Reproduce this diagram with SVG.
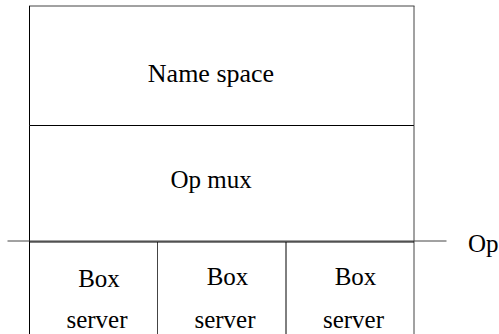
<svg xmlns="http://www.w3.org/2000/svg" width="499" height="334" viewBox="0 0 499 334">
  <style>
    text { font-family: 'Liberation Serif', 'Times New Roman', serif; font-size: 25px; fill: #000; text-anchor: middle; }
    .ln { stroke: #000; stroke-width: 1; fill: none; }
    .g { stroke: #444; stroke-width: 1; fill: none; }
  </style>
  <rect width="499" height="334" fill="#fff"/>
  <g id="name-space">
    <line class="g" x1="29" y1="6" x2="414.5" y2="6"/>
    <line class="ln" x1="29.5" y1="6" x2="29.5" y2="125.5"/>
    <line class="g" x1="414" y1="6" x2="414" y2="125.5"/>
    <text x="211" y="82" style="font-size:26px">Name space</text>
  </g>
  <g id="op-mux">
    <line class="ln" x1="29.5" y1="125.5" x2="414" y2="125.5"/>
    <line class="ln" x1="29.5" y1="125.5" x2="29.5" y2="242"/>
    <line class="g" x1="414" y1="125.5" x2="414" y2="242"/>
    <text x="211" y="188">Op mux</text>
  </g>
  <g id="box-server-1">
    <line class="ln" x1="29.5" y1="242" x2="29.5" y2="334"/>
    <line class="g" x1="157.5" y1="242" x2="157.5" y2="334"/>
    <text x="99" y="286.5">Box</text>
    <text x="97" y="328">server</text>
  </g>
  <g id="box-server-2">
    <line class="ln" x1="286" y1="242" x2="286" y2="334" stroke-width="2"/>
    <text x="227.5" y="285">Box</text>
    <text x="225" y="328">server</text>
  </g>
  <g id="box-server-3">
    <line class="g" x1="414" y1="242" x2="414" y2="334"/>
    <text x="355.5" y="285">Box</text>
    <text x="353.5" y="328">server</text>
  </g>
  <g id="connectors">
    <line class="g" x1="7.5" y1="241" x2="446.5" y2="241"/>
    <line class="ln" x1="29" y1="242" x2="414" y2="242" stroke-width="2"/>
  </g>
  <g id="op-label">
    <text x="468" y="251.5" style="text-anchor:start">Op</text>
  </g>
</svg>
